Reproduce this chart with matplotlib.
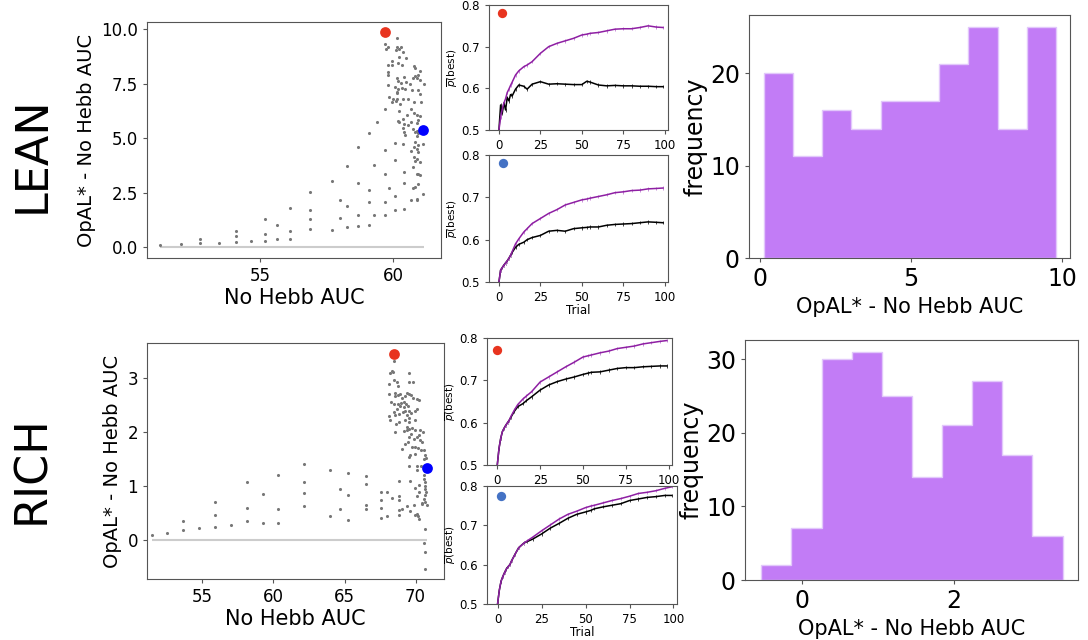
import matplotlib.pyplot as plt

# ---- data ----
# LEAN scatter: No Hebb AUC vs (OpAL* - No Hebb AUC)
lean_x = [51.25, 52.04, 52.76, 52.76, 53.45, 54.09, 54.09, 54.09, 54.66, 55.20, 55.20, 55.20,
          55.64, 55.64, 56.11, 56.11, 56.11, 56.89, 56.89, 56.89, 56.89, 57.70, 57.70, 58.01,
          58.01, 58.28, 58.28, 58.28, 58.68, 58.68, 58.68, 58.68, 59.10, 59.10, 59.10, 59.10,
          59.28, 59.28, 59.40, 59.68, 59.68, 59.68, 59.68, 59.68, 59.83, 60.06, 60.06, 60.06,
          60.06, 60.23, 60.36, 60.41, 60.41, 60.41,
          60.40, 60.44, 60.81, 60.88, 60.94, 60.84, 60.94, 61.13, 60.79, 60.88, 60.69, 60.94,
          60.79, 60.88, 60.81, 61.00, 60.75, 60.88, 60.94, 61.00, 60.94, 60.81, 60.75, 61.13,
          60.88, 60.88, 60.69,
          59.71, 60.13, 59.71, 59.81, 59.75, 60.16, 60.29, 60.23, 60.10, 60.38, 60.23, 60.50,
          59.94, 59.79, 59.96, 60.19, 60.35, 60.79, 60.84, 61.00, 59.81, 59.81, 60.81, 60.94,
          60.75, 60.88, 61.00, 60.13, 60.41, 60.19, 60.29, 60.50, 60.63, 59.79, 61.16, 60.06,
          60.19, 60.34, 60.44, 60.16, 60.13, 60.71, 60.94, 61.00, 59.84, 60.00, 60.16, 60.38,
          60.56, 59.94, 60.09, 60.25, 60.79, 61.06, 60.23, 60.54, 60.69, 60.79, 60.91, 61.00,
          60.19, 60.38, 60.69, 60.88, 60.94, 60.41, 60.56, 60.38, 60.75, 60.88]
lean_y = [0.08, 0.12, 0.35, 0.17, 0.20, 0.74, 0.49, 0.25, 0.29, 1.27, 0.61, 0.29,
          1.03, 0.35, 1.81, 0.74, 0.35, 2.52, 1.69, 1.29, 0.83, 3.04, 0.80, 2.15,
          1.35, 3.73, 1.87, 0.92, 4.57, 2.94, 1.49, 0.95, 5.21, 2.62, 2.06, 1.03,
          3.77, 1.49, 5.74, 6.33, 4.43, 3.36, 2.09, 1.46, 2.71, 4.79, 4.00, 2.35,
          1.70, 5.75, 4.72, 3.42, 2.93, 1.73,
          5.29, 5.14, 5.29, 5.09, 5.21, 4.83, 4.68, 4.72, 4.60, 4.52, 4.42, 4.37,
          4.14, 4.06, 3.96, 3.91, 3.65, 3.33, 3.33, 3.30, 2.88, 2.76, 2.73, 2.45,
          2.22, 2.15, 2.18,
          9.82, 9.57, 9.29, 9.19, 9.08, 9.19, 9.19, 9.08, 9.03, 8.96, 8.70, 8.65,
          8.53, 8.37, 8.37, 8.42, 8.37, 8.30, 8.22, 8.07, 8.04, 7.88, 7.85, 7.88,
          7.73, 7.73, 7.65, 7.73, 7.78, 7.62, 7.53, 7.55, 7.50, 7.45, 7.50, 7.32,
          7.27, 7.30, 7.27, 7.12, 7.07, 7.19, 7.19, 7.04, 6.89, 6.81, 6.81, 6.78,
          6.78, 6.66, 6.69, 6.58, 6.66, 6.66, 6.23, 6.07, 6.32, 6.17, 6.07, 6.01,
          5.77, 5.86, 5.74, 5.71, 5.81, 5.66, 5.58, 5.46, 5.40, 5.34]
lean_best = (59.71, 9.86)
lean_worst = (61.13, 5.38)

# RICH scatter
rich_x = [51.43, 52.49, 53.62, 53.62, 54.77, 55.92, 55.92, 55.92, 57.04, 58.17, 58.17, 58.17,
          59.27, 59.27, 60.33, 60.33, 60.33, 62.14, 62.14, 62.14, 62.14, 63.97, 63.97, 64.67,
          64.67, 65.26, 65.26, 65.26, 66.53, 66.53, 66.53, 66.53,
          69.51, 70.73, 69.51, 70.09, 70.09, 70.40, 68.80, 69.58, 70.21, 69.93, 70.21, 70.09,
          70.56, 70.56, 70.63, 70.63, 70.68, 70.73, 70.63, 70.56, 70.63, 70.45, 70.80,
          67.58, 68.00, 67.58, 68.33, 68.80, 68.80, 67.58, 67.58, 68.00, 69.39, 69.04, 68.80,
          68.80, 69.58, 69.86, 69.93, 70.09, 70.16, 70.21, 70.45, 70.63, 70.56, 70.63, 70.68,
          68.50, 68.33, 68.22, 68.38, 69.55, 68.10, 68.45, 68.69, 68.76, 69.55, 69.79,
          68.10, 68.52, 68.57, 68.76, 68.92, 69.04, 69.23, 69.39, 69.51, 69.69, 69.79, 70.09,
          70.21, 68.29, 68.45, 68.76, 68.99, 69.15, 69.32, 69.46, 69.15, 68.92, 68.69, 69.27,
          69.51, 68.45, 68.57, 68.80, 69.08, 69.39, 69.69, 69.93, 70.09, 69.51, 69.23, 69.55,
          69.93, 68.15, 68.22, 68.62, 68.80, 69.39, 69.51, 69.74, 69.39, 69.15, 69.69, 69.98,
          70.33, 70.49, 70.21, 68.52, 69.51, 69.86, 70.09, 70.33, 70.45, 69.46, 69.23, 69.74,
          69.93, 70.16, 70.40, 70.56, 69.04, 69.98, 70.68, 70.56, 69.62]
rich_y = [0.10, 0.14, 0.35, 0.18, 0.23, 0.70, 0.47, 0.25, 0.28, 1.07, 0.60, 0.35,
          0.85, 0.31, 1.20, 0.58, 0.31, 1.41, 1.08, 0.88, 0.63, 1.30, 0.44, 0.94,
          0.58, 1.25, 0.83, 0.37, 1.19, 1.03, 0.65, 0.57,
          1.54, 1.52, 1.37, 1.38, 1.29, 1.38, 1.09, 1.09, 1.02, 0.96, 0.90, 0.81,
          1.20, 1.14, 1.07, 1.01, 0.95, 0.89, 0.83, 0.77, 0.70, 0.69, 0.65,
          0.89, 0.90, 0.75, 0.78, 0.81, 0.75, 0.60, 0.41, 0.44, 0.64, 0.58, 0.55,
          0.47, 0.53, 0.65, 0.47, 0.49, 0.44, 0.40, 0.67, 0.21, -0.05, -0.22, -0.53,
          3.31, 3.14, 3.10, 3.11, 3.09, 2.90, 2.96, 2.93, 2.86, 2.93, 2.93,
          2.71, 2.72, 2.66, 2.68, 2.71, 2.64, 2.66, 2.72, 2.70, 2.68, 2.64, 2.62,
          2.60, 2.56, 2.52, 2.52, 2.54, 2.56, 2.52, 2.48, 2.46, 2.48, 2.43, 2.40,
          2.40, 2.37, 2.31, 2.33, 2.37, 2.31, 2.35, 2.39, 2.43, 2.27, 2.22, 2.19,
          2.23, 2.29, 2.22, 2.15, 2.19, 2.10, 2.06, 2.08, 2.03, 2.02, 1.97, 2.03,
          2.04, 2.00, 1.94, 2.00, 1.91, 1.88, 1.91, 1.85, 1.81, 1.81, 1.78, 1.73,
          1.72, 1.71, 1.67, 1.66, 1.69, 1.60, 1.57, 1.51, 1.57]
rich_best = (68.45, 3.45)
rich_worst = (70.80, 1.33)

# learning curves p(best) per trial: OpAL* (purple) vs No Hebb (black)
trials = [0, 1, 2, 3, 4, 5, 6, 7, 8, 10, 12, 15, 17, 20, 25, 30, 35, 40, 45, 50,
          53, 55, 60, 65, 70, 75, 80, 85, 90, 95, 99]
lean_best_opal = [0.50, 0.53, 0.55, 0.565, 0.575, 0.59, 0.598, 0.607, 0.615, 0.632, 0.642,
                  0.652, 0.656, 0.664, 0.684, 0.700, 0.708, 0.714, 0.720, 0.728, 0.730,
                  0.732, 0.734, 0.738, 0.742, 0.743, 0.743, 0.746, 0.750, 0.747, 0.746]
lean_best_nohebb = [0.50, 0.56, 0.54, 0.565, 0.548, 0.578, 0.570, 0.585, 0.582, 0.598, 0.608,
                    0.605, 0.598, 0.610, 0.616, 0.610, 0.611, 0.610, 0.609, 0.609, 0.617,
                    0.615, 0.608, 0.606, 0.607, 0.606, 0.606, 0.605, 0.605, 0.604, 0.604]
lean_worst_opal = [0.50, 0.528, 0.534, 0.54, 0.545, 0.55, 0.556, 0.563, 0.572, 0.590, 0.602,
                   0.618, 0.626, 0.638, 0.650, 0.662, 0.671, 0.682, 0.688, 0.694, 0.696,
                   0.698, 0.702, 0.706, 0.711, 0.713, 0.716, 0.717, 0.720, 0.721, 0.722]
lean_worst_nohebb = [0.50, 0.528, 0.534, 0.54, 0.545, 0.55, 0.556, 0.563, 0.570, 0.582, 0.589,
                     0.594, 0.600, 0.605, 0.610, 0.620, 0.622, 0.620, 0.626, 0.628, 0.629,
                     0.630, 0.630, 0.634, 0.636, 0.637, 0.638, 0.640, 0.642, 0.641, 0.640]
rich_best_opal = [0.50, 0.539, 0.563, 0.579, 0.587, 0.594, 0.600, 0.606, 0.615, 0.630, 0.643,
                  0.656, 0.663, 0.673, 0.696, 0.708, 0.720, 0.732, 0.743, 0.755, 0.758,
                  0.760, 0.765, 0.769, 0.775, 0.778, 0.781, 0.786, 0.789, 0.792, 0.794]
rich_best_nohebb = [0.50, 0.539, 0.563, 0.579, 0.587, 0.594, 0.600, 0.606, 0.613, 0.627, 0.638,
                    0.645, 0.652, 0.661, 0.677, 0.689, 0.697, 0.703, 0.708, 0.714, 0.717,
                    0.719, 0.720, 0.724, 0.728, 0.730, 0.730, 0.732, 0.733, 0.734, 0.734]
rich_worst_opal = [0.50, 0.535, 0.558, 0.570, 0.580, 0.589, 0.595, 0.600, 0.610, 0.627, 0.643,
                   0.655, 0.661, 0.670, 0.686, 0.701, 0.716, 0.728, 0.736, 0.745, 0.749,
                   0.751, 0.757, 0.763, 0.768, 0.774, 0.781, 0.784, 0.788, 0.794, 0.798]
rich_worst_nohebb = [0.50, 0.535, 0.558, 0.570, 0.580, 0.589, 0.595, 0.600, 0.610, 0.627, 0.643,
                     0.655, 0.659, 0.665, 0.678, 0.693, 0.705, 0.718, 0.728, 0.734, 0.738,
                     0.742, 0.747, 0.751, 0.755, 0.763, 0.767, 0.771, 0.773, 0.776, 0.776]
sem = 0.004

# histograms of OpAL* - No Hebb AUC
lean_edges = [0.13, 1.10, 2.07, 3.03, 4.00, 4.97, 5.93, 6.90, 7.87, 8.84, 9.80]
lean_counts = [20, 11, 16, 14, 17, 17, 21, 25, 14, 25]
rich_edges = [-0.54, -0.14, 0.26, 0.66, 1.05, 1.45, 1.85, 2.24, 2.64, 3.04, 3.44]
rich_counts = [2, 7, 30, 31, 25, 14, 21, 27, 17, 6]

RED = '#e8341f'
BLUE = '#0000ff'
LBLUE = '#4472c4'
PURPLE = '#8e1fa3'
HISTC = '#c27cf6'

W, H = 1088, 640
fig = plt.figure(figsize=(W / 100, H / 100), dpi=100)


def box(x0, y0, x1, y1):
    # pixel box -> figure axes
    return fig.add_axes([x0 / W, 1 - y1 / H, (x1 - x0) / W, (y1 - y0) / H])


def style(ax, fs):
    for s in ax.spines.values():
        s.set_color('#555555')
        s.set_linewidth(0.8)
    ax.tick_params(labelsize=fs, color='#555555', length=3, width=0.8)


def scatter_panel(ax, x, y, best, worst, xlim, ylim, xticks, yticks):
    ax.hlines(0, min(x), max(x), color='#cccccc', lw=1.5, zorder=1)
    ax.scatter(x, y, s=5, color='#777777', zorder=2, linewidths=0)
    ax.scatter(*best, s=60, color=RED, zorder=3, linewidths=0)
    ax.scatter(*worst, s=60, color=BLUE, zorder=3, linewidths=0)
    ax.set_xlim(*xlim)
    ax.set_ylim(*ylim)
    ax.set_xticks(xticks)
    ax.set_yticks(yticks)
    style(ax, 12)
    ax.set_xlabel('No Hebb AUC', fontsize=15, labelpad=2)
    ax.set_ylabel('OpAL* - No Hebb AUC', fontsize=14, labelpad=4)


def curve_panel(ax, opal, nohebb, dot, dotcol, trial_label):
    ax.errorbar(trials, nohebb, yerr=sem, color='black', lw=1.1, elinewidth=0.7,
                ecolor='#444444', capsize=0)
    ax.errorbar(trials, opal, yerr=sem, color=PURPLE, lw=1.1, elinewidth=0.7,
                ecolor='#c98fd8', capsize=0)
    ax.scatter(*dot, s=45, color=dotcol, linewidths=0, zorder=4)
    ax.set_ylim(0.5, 0.8)
    ax.set_xlim(-6, 102)
    ax.set_xticks([0, 25, 50, 75, 100])
    ax.set_yticks([0.5, 0.6, 0.7, 0.8])
    style(ax, 8.5)
    ax.set_ylabel(r'$\overline{p}$(best)', fontsize=7.5, labelpad=1)
    if trial_label:
        ax.set_xlabel('Trial', fontsize=8.5, labelpad=0)


def hist_panel(ax, edges, counts, xlim, ylim, xticks, yticks):
    ax.hist(edges[:-1], bins=edges, weights=counts, histtype='stepfilled',
            facecolor=HISTC, edgecolor='#e2c8fb', linewidth=1.0)
    ax.set_xlim(*xlim)
    ax.set_ylim(*ylim)
    ax.set_xticks(xticks)
    ax.set_yticks(yticks)
    style(ax, 17)
    ax.set_xlabel('OpAL* - No Hebb AUC', fontsize=15, labelpad=4)
    ax.set_ylabel('frequency', fontsize=17, labelpad=2)


ax1 = box(147, 22, 441, 258)
scatter_panel(ax1, lean_x, lean_y, lean_best, lean_worst, (50.75, 61.8), (-0.5, 10.32),
              [55, 60], [0, 2.5, 5, 7.5, 10])
ax1.set_yticklabels(['0.0', '2.5', '5.0', '7.5', '10.0'])

ax2 = box(147, 343, 444, 579)
scatter_panel(ax2, rich_x, rich_y, rich_best, rich_worst, (51.1, 72.0), (-0.72, 3.65),
              [55, 60, 65, 70], [0, 1, 2, 3])

curve_panel(box(489, 5, 668, 130), lean_best_opal, lean_best_nohebb, (2, 0.78), RED, False)
curve_panel(box(489, 155, 668, 282), lean_worst_opal, lean_worst_nohebb, (2.5, 0.78), LBLUE, True)
curve_panel(box(487, 338, 672, 465), rich_best_opal, rich_best_nohebb, (0, 0.772), RED, False)
curve_panel(box(487, 486, 677, 604), rich_worst_opal, rich_worst_nohebb, (2, 0.775), LBLUE, True)

hist_panel(box(749, 15, 1070, 258), lean_edges, lean_counts, (-0.36, 10.26), (0, 26.3),
           [0, 5, 10], [0, 10, 20])
hist_panel(box(745, 340, 1078, 580), rich_edges, rich_counts, (-0.75, 3.64), (0, 32.6),
           [0, 2], [0, 10, 20, 30])

fig.text(32 / W, 1 - 155 / H, 'LEAN', rotation=90, fontsize=32, ha='center', va='center')
fig.text(32 / W, 1 - 470 / H, 'RICH', rotation=90, fontsize=32, ha='center', va='center')

fig.savefig('out.png', dpi=100)
